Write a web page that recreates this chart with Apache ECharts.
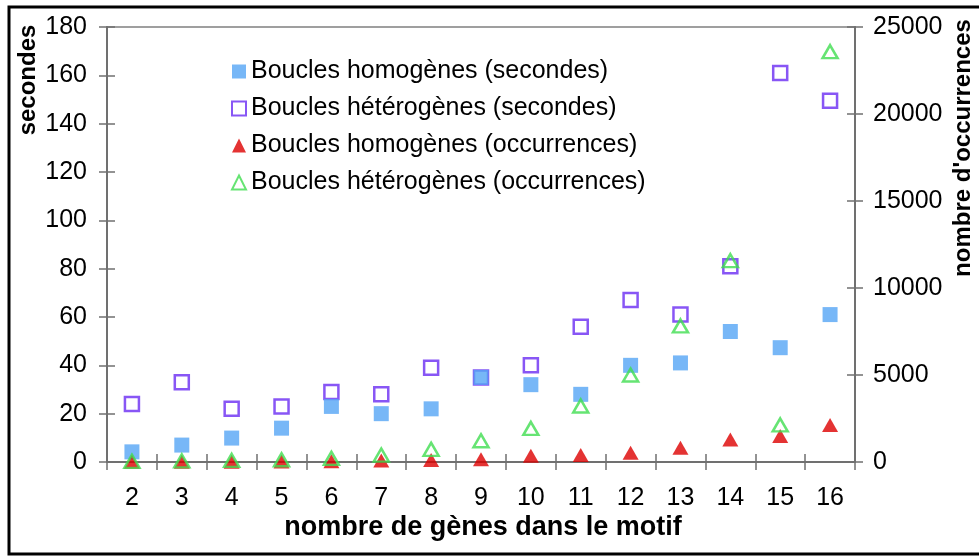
<!DOCTYPE html>
<html><head><meta charset="utf-8">
<script src="https://cdn.jsdelivr.net/npm/echarts@6/dist/echarts.min.js"></script>
<style>html,body{margin:0;padding:0;background:#fff}#c{width:979px;height:556px}</style>
</head><body><div id="c"></div>
<script>
const categories = ['2','3','4','5','6','7','8','9','10','11','12','13','14','15','16'];
const homSec = [4.2, 7, 9.9, 14, 23, 20, 22, 35, 32, 28, 40, 41, 54, 47.3, 61];
const hetSec = [24, 33, 22, 23, 29, 28, 39, 35, 40, 56, 67, 61, 81, 161, 149.5];
const homOcc = [10, 15, 20, 30, 40, 90, 110, 160, 360, 400, 530, 820, 1300, 1490, 2130];
const hetOcc = [40, 60, 90, 130, 210, 400, 730, 1220, 1930, 3220, 5000, 7820, 11570, 2130, 23580];
const leftTicks = [0, 20, 40, 60, 80, 100, 120, 140, 160, 180];
const rightTicks = [0, 5000, 10000, 15000, 20000, 25000];

const font = 'Liberation Sans, Arial, sans-serif';
const axisLine = {show: true, lineStyle: {color: '#707070', width: 2}};
const tick = {show: true, length: 8, lineStyle: {color: '#707070', width: 1.5}};
const tickIn = {show: true, inside: true, length: 8, lineStyle: {color: '#707070', width: 1.5}};
const leftMin = leftTicks[0], leftMax = leftTicks[leftTicks.length - 1];
const rightMin = rightTicks[0], rightMax = rightTicks[rightTicks.length - 1];
const chart = echarts.init(document.getElementById('c'));
chart.setOption({
  animation: false,
  grid: {left: 107, right: 124, top: 27, bottom: 94, show: true, borderColor: '#808080', borderWidth: 1.5},
  legend: {
    orient: 'vertical', left: 226, top: 54, itemGap: 12, itemWidth: 14, itemHeight: 14, itemTextGap: 11,
    textStyle: {fontFamily: font, fontSize: 25, color: '#000'},
    data: ['Boucles homogènes (secondes)', 'Boucles hétérogènes (secondes)', 'Boucles homogènes (occurrences)', 'Boucles hétérogènes (occurrences)']
  },
  xAxis: [{
    type: 'category', data: categories, boundaryGap: true,
    axisLine: axisLine, axisTick: tick,
    axisLabel: {fontFamily: font, fontSize: 25, color: '#000', margin: 24}
  }, {
    type: 'category', data: categories, boundaryGap: true, position: 'bottom',
    axisLine: {show: false}, axisTick: tickIn, axisLabel: {show: false}
  }],
  yAxis: [{
    type: 'value', min: leftMin, max: leftMax, interval: 20,
    axisLine: axisLine, splitLine: {show: false}, axisTick: tick,
    axisLabel: {fontFamily: font, fontSize: 25, color: '#000', margin: 20}
  }, {
    type: 'value', min: rightMin, max: rightMax, interval: 5000,
    axisLine: axisLine, splitLine: {show: false}, axisTick: tick,
    axisLabel: {fontFamily: font, fontSize: 25, color: '#000', margin: 18, formatter: v => String(v)}
  }, {
    type: 'value', min: leftMin, max: leftMax, interval: 20, position: 'left',
    axisLine: {show: false}, splitLine: {show: false}, axisTick: tickIn, axisLabel: {show: false}
  }, {
    type: 'value', min: rightMin, max: rightMax, interval: 5000, position: 'right',
    axisLine: {show: false}, splitLine: {show: false}, axisTick: tickIn, axisLabel: {show: false}
  }],
  series: [{
    name: 'Boucles hétérogènes (secondes)', type: 'scatter', yAxisIndex: 0, data: hetSec,
    symbol: 'rect', symbolSize: 14, z: 2,
    itemStyle: {color: 'rgba(255,255,255,0)', borderColor: '#6a2cf2', borderWidth: 2.5}
  }, {
    name: 'Boucles homogènes (secondes)', type: 'scatter', yAxisIndex: 0, data: homSec,
    symbol: 'rect', symbolSize: 15, z: 3,
    itemStyle: {color: '#55a5f5'}
  }, {
    name: 'Boucles homogènes (occurrences)', type: 'scatter', yAxisIndex: 1, data: homOcc,
    symbol: 'triangle', symbolSize: [16, 14], z: 4,
    itemStyle: {color: '#dd0000'}
  }, {
    name: 'Boucles hétérogènes (occurrences)', type: 'scatter', yAxisIndex: 1, data: hetOcc,
    symbol: 'triangle', symbolSize: [15, 13], z: 5,
    itemStyle: {color: 'rgba(255,255,255,0)', borderColor: '#40dd50', borderWidth: 2.5}
  }],
  graphic: [
    {type: 'rect', shape: {x: 9, y: 7, width: 990, height: 547}, style: {fill: 'none', stroke: '#000', lineWidth: 3}, z: 100},
    {type: 'text', x: 28, y: 80, rotation: Math.PI / 2, style: {text: 'secondes', fontFamily: font, fontSize: 24, fontWeight: 'bold', fill: '#000', align: 'center', verticalAlign: 'middle'}},
    {type: 'text', x: 963, y: 148, rotation: Math.PI / 2, style: {text: "nombre d'occurrences", fontFamily: font, fontSize: 24, fontWeight: 'bold', fill: '#000', align: 'center', verticalAlign: 'middle'}},
    {type: 'text', x: 483, y: 528, style: {text: 'nombre de gènes dans le motif', fontFamily: font, fontSize: 27, fontWeight: 'bold', fill: '#000', align: 'center', verticalAlign: 'middle'}}
  ]
});
</script></body></html>
